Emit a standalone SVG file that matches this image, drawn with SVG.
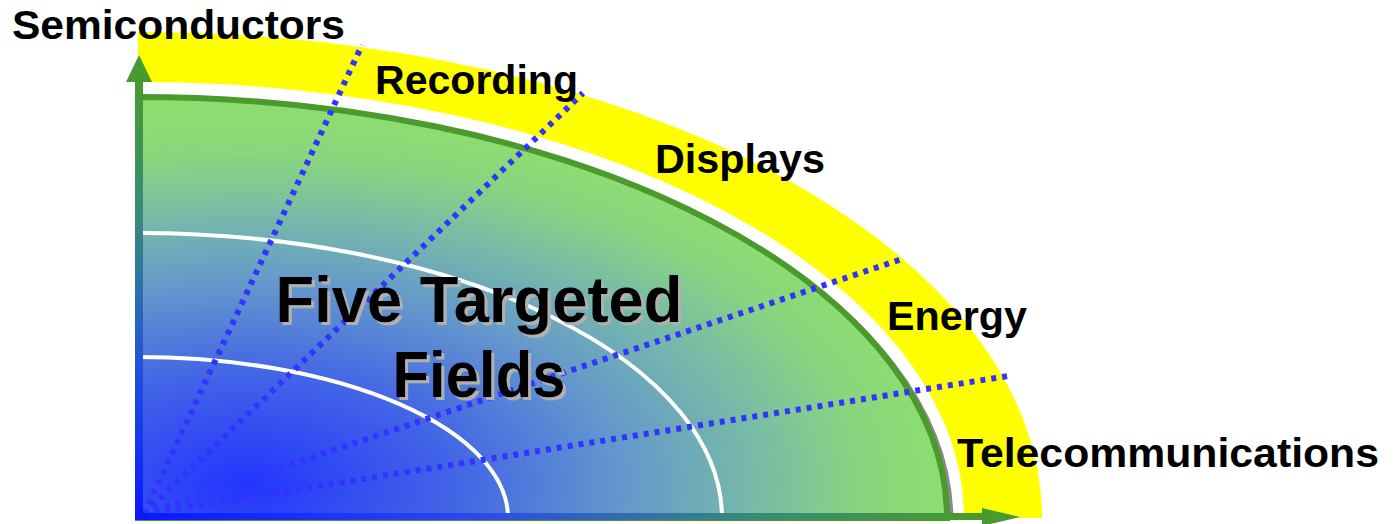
<svg xmlns="http://www.w3.org/2000/svg" width="1395" height="524" viewBox="0 0 1395 524">
<style>
.lbl{font-family:"Liberation Sans",Arial,sans-serif;font-weight:bold;font-size:41px;fill:#000}
.big{font-family:"Liberation Sans",Arial,sans-serif;font-weight:bold;font-size:65px;text-anchor:middle;fill:#000}
.dot{fill:none;stroke:#3333ff;stroke-width:6;stroke-dasharray:5 6}
.ring{fill:none;stroke:#fff;stroke-width:4}
</style>
<defs>
<radialGradient id="fillg" gradientUnits="userSpaceOnUse" cx="0" cy="0" r="1" gradientTransform="translate(245,485) scale(690,365)">
<stop offset="0" stop-color="#2236ff"/>
<stop offset="0.3" stop-color="#4264e6"/>
<stop offset="0.55" stop-color="#6498cc"/>
<stop offset="0.75" stop-color="#78bca6"/>
<stop offset="0.9" stop-color="#88d67e"/>
<stop offset="1" stop-color="#8ddc72"/>
</radialGradient>
<linearGradient id="vax" gradientUnits="userSpaceOnUse" x1="0" y1="82" x2="0" y2="520">
<stop offset="0" stop-color="#479a30"/>
<stop offset="0.3" stop-color="#3a8a78"/>
<stop offset="0.65" stop-color="#2252de"/>
<stop offset="1" stop-color="#0a18ff"/>
</linearGradient>
<linearGradient id="hax" gradientUnits="userSpaceOnUse" x1="138" y1="0" x2="960" y2="0">
<stop offset="0" stop-color="#0a18ff"/>
<stop offset="0.4" stop-color="#2a48ee"/>
<stop offset="0.75" stop-color="#3a8a78"/>
<stop offset="1" stop-color="#479a30"/>
</linearGradient>
<filter id="shadow" x="-5%" y="-20%" width="115%" height="150%">
<feFlood flood-color="#b0b0b0" result="c"/>
<feComposite in="c" in2="SourceAlpha" operator="in" result="s"/>
<feOffset in="s" dx="3" dy="3" result="o"/>
<feMerge><feMergeNode in="o"/><feMergeNode in="SourceGraphic"/></feMerge>
</filter>
</defs>
<g id="bands">
<path d="M138,518 L138,32 A904,486 0 0 1 1042,518 Z" fill="#ffff00"/>
<path d="M138,518 L138,82 A826,436 0 0 1 964,518 Z" fill="#ffffff"/>
<path d="M140,518 L140,99 A809,421 0 0 1 949,518" fill="none" stroke="#8a8a8a" stroke-width="6" transform="translate(1.5,1.5)"/>
<path d="M138,518 L138,97 A809,421 0 0 1 947,518 Z" fill="url(#fillg)" stroke="#4a9a2c" stroke-width="6"/>
</g>
<g id="rings">
<path class="ring" d="M138,233 A584,285 0 0 1 722,518"/>
<path class="ring" d="M138,357 A370,161 0 0 1 508,518"/>
</g>
<g id="connectors">
<line class="dot" x1="144" y1="514" x2="362" y2="45"/>
<line class="dot" x1="144" y1="514" x2="583" y2="93"/>
<line class="dot" x1="144" y1="514" x2="905" y2="258"/>
<line class="dot" x1="144" y1="514" x2="1008" y2="376"/>
</g>
<g id="axes">
<rect x="135" y="80" width="8" height="440" fill="url(#vax)"/>
<polygon points="126,82 139,55 152,82" fill="#479a30"/>
<rect x="135" y="513" width="850" height="7" fill="url(#hax)"/>
<polygon points="982,508 1020,517 982,526" fill="#479a30"/>
</g>
<g id="title" filter="url(#shadow)">
<text class="big" x="479" y="322" textLength="407" lengthAdjust="spacingAndGlyphs">Five Targeted</text>
<text class="big" x="479" y="397" textLength="173" lengthAdjust="spacingAndGlyphs">Fields</text>
</g>
<g id="node-semiconductors"><text class="lbl" x="12" y="39" textLength="333" lengthAdjust="spacingAndGlyphs">Semiconductors</text></g>
<g id="node-recording"><text class="lbl" x="375" y="94" textLength="203" lengthAdjust="spacingAndGlyphs">Recording</text></g>
<g id="node-displays"><text class="lbl" x="655" y="173" textLength="170" lengthAdjust="spacingAndGlyphs">Displays</text></g>
<g id="node-energy"><text class="lbl" x="887" y="330" textLength="140" lengthAdjust="spacingAndGlyphs">Energy</text></g>
<g id="node-telecommunications"><text class="lbl" x="957" y="467" textLength="422" lengthAdjust="spacingAndGlyphs">Telecommunications</text></g>
</svg>
